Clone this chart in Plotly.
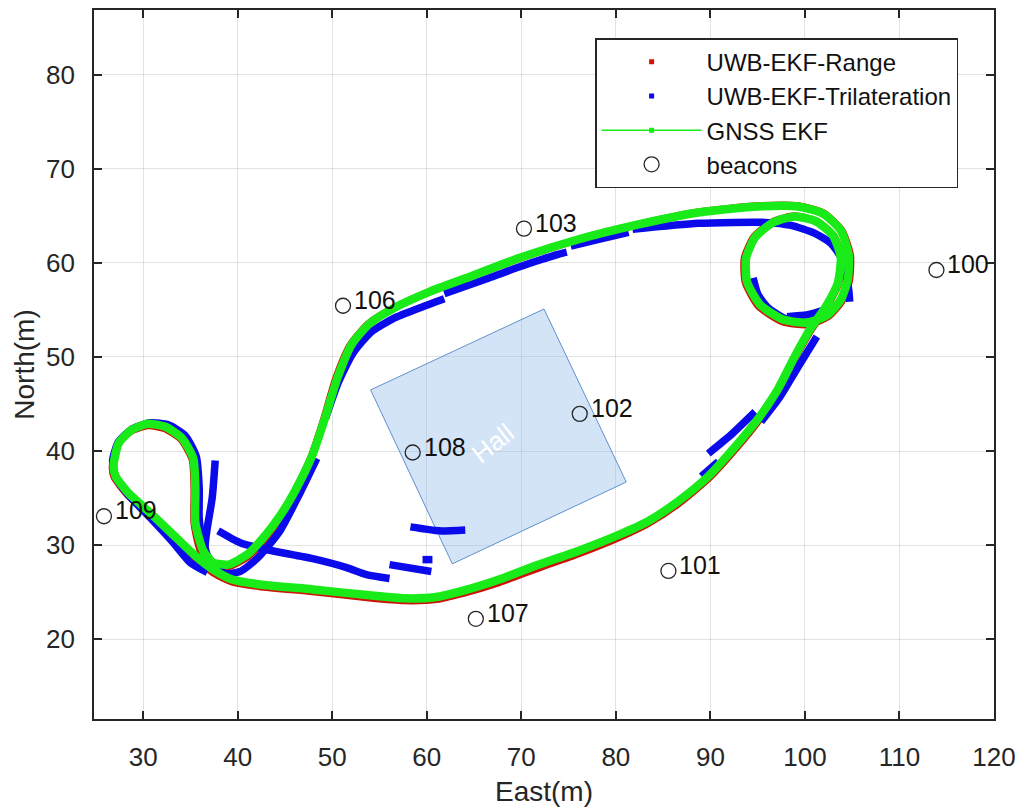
import plotly.graph_objects as go

# ---------------- data ----------------
gnss_east = [26.87, 27.40, 28.66, 30.45, 32.35, 34.14, 35.30, 35.52, 35.52, 36.35, 37.41, 38.99,
             40.99, 42.89, 44.47, 46.05, 47.84, 49.21, 50.58, 52.05, 53.95, 56.59, 60.27, 64.49,
             69.76, 76.08, 82.40, 88.72, 95.04, 99.26, 101.89, 103.79, 104.63, 104.53, 103.79,
             102.42, 100.31, 97.68, 95.25, 93.88, 93.78, 94.73, 96.63, 98.94, 101.16, 102.95,
             103.79, 103.48, 102.21, 100.53, 98.94, 97.15, 95.05, 92.73, 89.78, 86.62, 83.46,
             80.30, 76.08, 71.87, 67.65, 63.96, 60.80, 57.64, 53.95, 47.94, 42.36, 39.41, 37.41,
             35.51, 33.19, 30.77, 28.45, 27.08, 26.87]
gnss_north = [38.47, 40.79, 42.16, 42.90, 42.58, 41.32, 39.21, 36.04, 32.35, 29.40, 28.13, 27.92,
              28.97, 30.98, 33.09, 35.73, 39.42, 43.43, 47.86, 51.34, 53.55, 55.24, 56.93, 58.51,
              60.52, 62.52, 64.10, 65.37, 66.00, 66.00, 65.26, 63.47, 60.83, 58.20, 56.09,
              54.50, 53.66, 53.98, 55.56, 57.98, 60.52, 62.73, 64.31, 64.95, 64.42, 62.94,
              60.62, 57.88, 55.35, 52.92, 50.07, 46.59, 43.43, 40.58, 37.31, 34.67, 32.56,
              31.08, 29.40, 27.92, 26.34, 25.18, 24.44, 24.33, 24.65, 25.28, 25.81, 26.34, 27.39,
              28.87, 31.08, 33.40, 35.51, 37.31, 38.47]

range_east = [26.75, 27.3, 28.6, 30.5, 32.3, 34.05, 35.2, 35.4, 35.4, 36.1, 37.35, 39.0, 41.05, 42.95,
              44.5, 46.0, 47.75, 49.1, 50.4, 51.9, 53.8, 56.5, 60.2, 64.5, 69.8, 76.1, 82.4, 88.7,
              95.0, 99.3, 101.95, 103.9, 104.8, 104.7, 103.9, 102.45, 100.3, 97.65, 95.1, 93.7, 93.6,
              94.6, 96.55, 98.9, 101.2, 103.0, 103.85, 103.55, 102.25, 100.6, 99.0, 97.2, 95.1, 92.8,
              89.8, 86.6, 83.4, 80.3, 76.1, 71.9, 67.6, 63.9, 60.8, 57.6, 53.9, 47.9, 42.3, 39.35,
              37.35, 35.45, 33.15, 30.7, 28.35, 26.95, 26.75]
range_north = [38.3, 40.75, 42.05, 42.7, 42.4, 41.2, 39.1, 36.0, 32.3, 29.3, 27.95, 27.7, 28.75, 30.75,
               32.9, 35.6, 39.3, 43.35, 47.75, 51.25, 53.5, 55.2, 56.9, 58.5, 60.5, 62.5, 64.1, 65.4,
               66.05, 66.05, 65.3, 63.45, 60.8, 58.15, 55.95, 54.3, 53.45, 53.75, 55.4, 57.95, 60.5,
               62.75, 64.35, 64.98, 64.45, 62.95, 60.6, 57.85, 55.25, 52.8, 49.95, 46.45, 43.25, 40.4,
               37.1, 34.4, 32.3, 30.8, 29.1, 27.6, 26.0, 24.9, 24.2, 24.1, 24.4, 25.05, 25.6, 26.1,
               27.1, 28.7, 30.9, 33.2, 35.35, 37.2, 38.3]

# trilateration track: separate pieces split by None
tri_east = [36.78, 34.98, 33.19, 30.77, 28.45, 27.08, 26.77, 27.40, 28.87, 30.77, 32.67, 34.46,
            35.62, 35.93, 35.93, 36.35, 37.30, 38.67, 40.25, 42.15, 44.47, 46.58, 48.37, None,
            37.62, 37.30, 36.78, 36.56, 37.09, 38.15, None,
            37.93, 40.25, 43.10, 47.94, 51.52, 53.63, 56.06, None,
            56.06, 60.48, None,
            59.55, 60.60, None,
            58.27, 61.33, 64.07, None,
            49.30, 50.65, 52.20, 54.05, 56.50, 59.22, 61.85, None,
            61.85, 66.28, 69.44, 73.97, 74.81, None,
            75.23, 78.18, 81.35, None,
            81.77, 88.72, 95.78, 98.52, 101.05, 102.74, 103.79, 104.32, 104.63, 104.74, None,
            94.52, 95.05, 96.10, 97.68, 99.26, None,
            98.11, 100.31, 102.74, None,
            101.26, 99.26, 97.36, 95.36, None,
            89.78, 92.20, 94.73, None,
            89.05, 90.84]
tri_north = [27.08, 28.13, 30.24, 32.88, 35.30, 37.31, 39.00, 41.00, 42.37, 43.00, 42.79, 41.63,
             39.42, 36.04, 32.88, 29.92, 28.02, 26.97, 27.18, 28.66, 31.51, 35.51, 39.21, None,
             39.00, 34.99, 31.82, 29.71, 28.13, 27.29, None,
             31.51, 30.24, 29.50, 28.55, 27.60, 26.86, 26.44, None,
             27.92, 27.18, None,
             28.45, 28.45, None,
             31.93, 31.51, 31.61, None,
             43.50, 47.30, 50.40, 52.60, 54.10, 55.20, 56.19, None,
             56.72, 58.30, 59.46, 60.94, 61.15, None,
             61.78, 62.52, 63.26, None,
             63.58, 64.21, 64.31, 64.00, 63.15, 62.10, 60.62, 58.93, 57.14, 55.87, None,
             58.41, 56.61, 55.24, 54.19, 53.66, None,
             54.29, 54.50, 55.24, None,
             52.18, 48.91, 45.75, 43.11, None,
             39.73, 41.74, 44.17, None,
             37.31, 38.89]

beacon_ids = ["100", "101", "102", "103", "106", "107", "108", "109"]
beacon_east = [113.91, 85.56, 76.18, 70.28, 51.14, 65.19, 58.51, 25.85]
beacon_north = [59.25, 27.25, 43.95, 63.65, 55.45, 22.15, 39.84, 33.06]

hall_east = [72.4, 54.06, 62.7, 81.1, 72.4]
hall_north = [55.1, 46.5, 28.0, 36.7, 55.1]
hall_label = "Hall"
hall_label_pos = (67.0, 40.9)

x_ticks = [30, 40, 50, 60, 70, 80, 90, 100, 110, 120]
y_ticks = [20, 30, 40, 50, 60, 70, 80]

# ---------------- figure ----------------
FONT = "Liberation Sans, Arial, Helvetica, sans-serif"
RED = "rgb(205,20,10)"
BLUE = "rgb(10,10,235)"
GREEN = "rgb(25,235,25)"
INK = "#262626"

fig = go.Figure()

fig.add_trace(go.Scatter(x=hall_east, y=hall_north, mode="lines", fill="toself",
                         fillcolor="rgba(140,185,235,0.38)",
                         line=dict(color="rgb(95,145,205)", width=1),
                         showlegend=False, hoverinfo="skip"))

fig.add_trace(go.Scatter(x=range_east, y=range_north, mode="lines",
                         line=dict(color=RED, width=7.5, shape="spline", smoothing=0.6),
                         showlegend=False))
fig.add_trace(go.Scatter(x=tri_east, y=tri_north, mode="lines", connectgaps=False,
                         line=dict(color=BLUE, width=7.5, shape="spline", smoothing=0.6),
                         showlegend=False))
fig.add_trace(go.Scatter(x=gnss_east, y=gnss_north, mode="lines",
                         line=dict(color=GREEN, width=8.5, shape="spline", smoothing=0.6),
                         showlegend=False))

# legend proxies
fig.add_trace(go.Scatter(x=[None], y=[None], mode="markers", name="UWB-EKF-Range",
                         marker=dict(symbol="square", size=5, color=RED)))
fig.add_trace(go.Scatter(x=[None], y=[None], mode="markers", name="UWB-EKF-Trilateration",
                         marker=dict(symbol="square", size=5, color=BLUE)))
fig.add_trace(go.Scatter(x=[None], y=[None], mode="lines+markers", name="GNSS EKF",
                         line=dict(color=GREEN, width=1.5),
                         marker=dict(symbol="square", size=5, color=GREEN)))

fig.add_trace(go.Scatter(x=beacon_east, y=beacon_north, mode="markers", name="beacons",
                         marker=dict(symbol="circle-open", size=15, color=INK,
                                     line=dict(width=1.3, color=INK))))

for bid, bx, by in zip(beacon_ids, beacon_east, beacon_north):
    fig.add_annotation(x=bx, y=by, text=bid, showarrow=False, xanchor="left",
                       yanchor="middle", xshift=9, yshift=6,
                       font=dict(family=FONT, size=25, color="#111111"))

fig.add_annotation(x=hall_label_pos[0], y=hall_label_pos[1], text=hall_label,
                   showarrow=False, textangle=-38,
                   font=dict(family=FONT, size=26, color="white"))

axis_common = dict(showgrid=True, gridcolor="rgba(0,0,0,0.11)", gridwidth=1,
                   showline=True, linecolor=INK, linewidth=1.6, mirror="ticks",
                   ticks="inside", ticklen=8, tickwidth=1.5, tickcolor=INK,
                   zeroline=False, tickfont=dict(family=FONT, size=26, color=INK))

fig.update_xaxes(range=[24.8, 120], tickvals=x_ticks, ticklabelstandoff=14,
                 title=dict(text="East(m)", font=dict(family=FONT, size=28, color=INK), standoff=10),
                 **axis_common)
fig.update_yaxes(range=[11.5, 86.9], tickvals=y_ticks, ticklabelstandoff=12,
                 title=dict(text="North(m)", font=dict(family=FONT, size=28, color=INK), standoff=3),
                 **axis_common)

fig.update_layout(
    width=1024, height=810,
    margin=dict(l=94, r=27, t=8, b=88),
    paper_bgcolor="white", plot_bgcolor="white",
    legend=dict(x=0.557, y=0.96, xanchor="left", yanchor="top",
                bgcolor="white", bordercolor=INK, borderwidth=1.3,
                font=dict(family=FONT, size=24, color="#111111"),
                itemwidth=100, tracegroupgap=0),
)

fig.write_html("out.html")
